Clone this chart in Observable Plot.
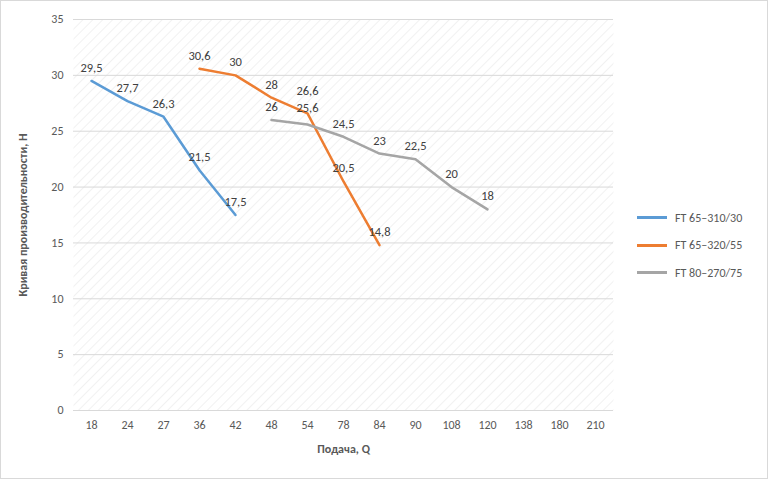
<!DOCTYPE html>
<html><head><meta charset="utf-8">
<script src="https://cdn.jsdelivr.net/npm/d3@7"></script>
<script src="https://cdn.jsdelivr.net/npm/@observablehq/plot@0.6"></script>
<style>
body{margin:0;background:#fff;font-family:Calibri,Carlito,"Liberation Sans",sans-serif}
#wrap{position:relative;width:766px;height:477px;border:1px solid #d9d9d9}
#legend{position:absolute;left:636px;top:203px;font-size:12px;color:#595959}
#legend div{display:flex;align-items:center;height:27.5px}
#legend span{display:inline-block;width:30px;height:3px;margin-right:8px}
</style></head><body>
<div id="wrap"><div id="chart"></div><div id="legend"></div></div>
<script>
const categories=["18","24","27","36","42","48","54","78","84","90","108","120","138","180","210"];
const seriesNames=["FT 65–310/30","FT 65–320/55","FT 80–270/75"];
const colors=["#5b9bd5","#ed7d31","#a5a5a5"];
const s1x=["18","24","27","36","42"], s1y=[29.5,27.7,26.3,21.5,17.5];
const s2x=["36","42","48","54","78","84"], s2y=[30.6,30,28,26.6,20.5,14.8];
const s3x=["48","54","78","84","90","108","120"], s3y=[26,25.6,24.5,23,22.5,20,18];
const yTicks=[0,5,10,15,20,25,30,35];
const data=[];
[[s1x,s1y],[s2x,s2y],[s3x,s3y]].forEach(([xs,ys],i)=>xs.forEach((x,j)=>data.push({s:seriesNames[i],x,y:ys[j]})));
const fmt=v=>String(v).replace(".",",");
const labels=(filter,dy)=>Plot.text(data.filter(filter),{x:"x",y:"y",text:d=>fmt(d.y),dy,fill:"#404040",fontSize:12.5});
const plot=Plot.plot({
  width:766,height:477,marginLeft:72,marginRight:154,marginTop:18,marginBottom:68,
  style:{fontFamily:"Calibri,Carlito,'Liberation Sans',sans-serif",fontSize:"12px",color:"#595959"},
  x:{type:"point",domain:categories,padding:0.5,label:"Подача, Q",labelArrow:"none",labelAnchor:"center",labelOffset:42,tickSize:0,tickPadding:10},
  y:{domain:[0,35],ticks:yTicks,label:"Кривая производительности, Н",labelArrow:"none",labelAnchor:"center",labelOffset:55,tickSize:0,tickPadding:10,tickFormat:d=>d},
  color:{domain:seriesNames,range:colors},
  marks:[
    Plot.frame({fill:"url(#hatch)",stroke:"none"}),
    Plot.ruleY(yTicks,{stroke:"#d9d9d9"}),
    Plot.line(data,{x:"x",y:"y",z:"s",stroke:"s",strokeWidth:2.5}),
    labels(d=>!(d.x==="54"),-13),
    labels(d=>d.x==="54"&&d.s===seriesNames[1],-22),
    labels(d=>d.x==="54"&&d.s===seriesNames[2],-17)
  ]
});
document.getElementById("chart").appendChild(plot);
const svg=d3.select(plot);
svg.selectAll("[aria-label*='axis label']").attr("font-weight","bold");
svg.insert("defs",":first-child").html('<pattern id="hatch" width="7" height="7" patternUnits="userSpaceOnUse" patternTransform="rotate(45)"><line x1="0" y1="0" x2="0" y2="7" stroke="#e3e3e3" stroke-width="1"/></pattern>');
document.getElementById("legend").innerHTML=seriesNames.map((n,i)=>`<div><span style="background:${colors[i]}"></span>${n}</div>`).join("");
</script></body></html>
